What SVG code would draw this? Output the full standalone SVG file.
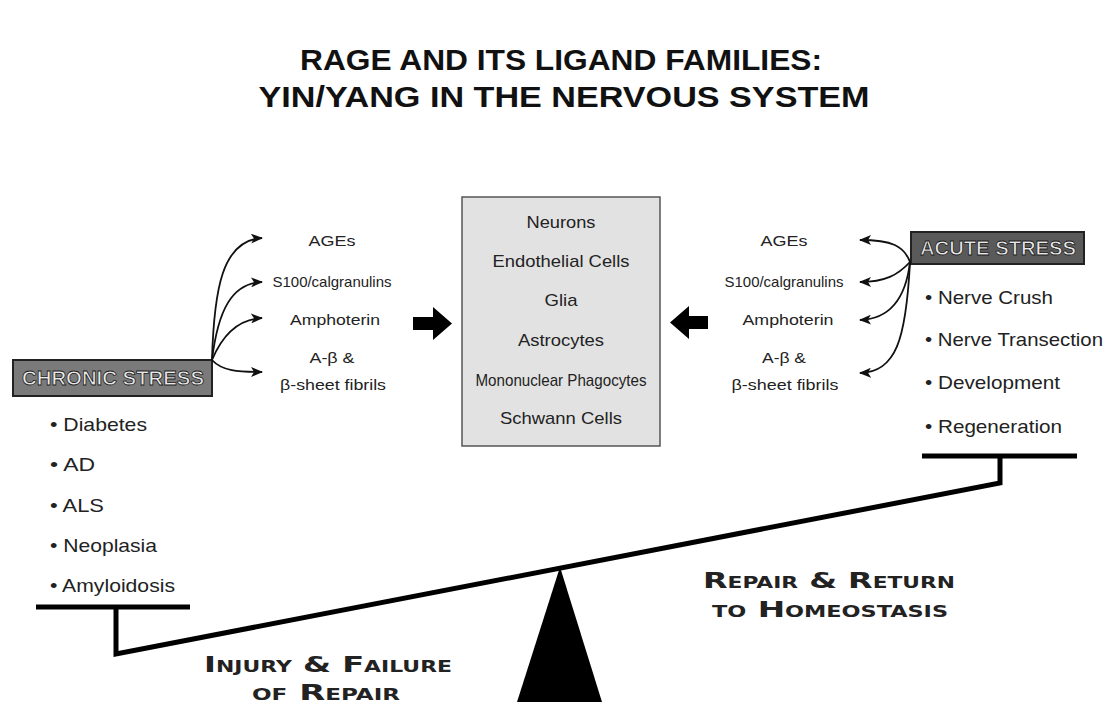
<svg xmlns="http://www.w3.org/2000/svg" width="1106" height="706" viewBox="0 0 1106 706">
<defs>
<marker id="ah" viewBox="0 0 12 10" refX="11" refY="5" markerWidth="12" markerHeight="10" markerUnits="userSpaceOnUse" orient="auto">
<path d="M0,0 L12,5 L0,10 L3,5 Z" fill="#111"/>
</marker>
<style>
.t{font-family:"Liberation Sans",Arial,sans-serif;fill:#222}
.title{font-family:"Liberation Sans",Arial,sans-serif;font-weight:bold;font-size:29px;fill:#111;text-anchor:middle}
.cell{font-size:17px;text-anchor:middle}
.lig{font-size:15px;text-anchor:middle}
.bul{font-size:19px}
.stress{font-family:"Liberation Sans",Arial,sans-serif;font-weight:bold;font-size:20px;fill:#e8e8e8;stroke:#1a1a1a;stroke-width:0.8;text-anchor:middle}
.sc{font-family:"DejaVu Sans",sans-serif;font-weight:bold;font-size:22px;font-variant:small-caps;fill:#222;text-anchor:middle}
.curve{fill:none;stroke:#111;stroke-width:1.8;marker-end:url(#ah)}
.bar{stroke:#000;stroke-width:5;fill:none;stroke-linecap:butt}
</style>
</defs>
<rect width="1106" height="706" fill="#fff"/>

<g id="title">
<text class="title" x="561" y="70" textLength="522" lengthAdjust="spacingAndGlyphs">RAGE AND ITS LIGAND FAMILIES:</text>
<text class="title" x="564" y="107" textLength="611" lengthAdjust="spacingAndGlyphs">YIN/YANG IN THE NERVOUS SYSTEM</text>
</g>

<g id="cells">
<rect x="462" y="197" width="198" height="249" fill="#e2e2e2" stroke="#555" stroke-width="1.5"/>
<text class="t cell" x="561" y="228" textLength="69" lengthAdjust="spacingAndGlyphs">Neurons</text>
<text class="t cell" x="561" y="267" textLength="137" lengthAdjust="spacingAndGlyphs">Endothelial Cells</text>
<text class="t cell" x="561" y="306" textLength="33" lengthAdjust="spacingAndGlyphs">Glia</text>
<text class="t cell" x="561" y="346" textLength="86" lengthAdjust="spacingAndGlyphs">Astrocytes</text>
<text class="t cell" x="561" y="386" textLength="171" lengthAdjust="spacingAndGlyphs">Mononuclear Phagocytes</text>
<text class="t cell" x="561" y="424" textLength="122" lengthAdjust="spacingAndGlyphs">Schwann Cells</text>
</g>

<g id="block-arrows">
<path d="M413,317 L433,317 L433,307 L452,323.5 L433,340 L433,330 L413,330 Z" fill="#000"/>
<path d="M708,316 L689,316 L689,306 L670,322.5 L689,339 L689,329 L708,329 Z" fill="#000"/>
</g>

<g id="chronic-stress">
<rect x="13" y="360" width="199" height="36" fill="#7a7a7a" stroke="#222" stroke-width="2"/>
<text class="stress" x="113" y="385" textLength="182" lengthAdjust="spacingAndGlyphs">CHRONIC STRESS</text>
</g>

<g id="acute-stress">
<rect x="911" y="232" width="173" height="32" fill="#5a5a5a" stroke="#222" stroke-width="2"/>
<text class="stress" x="998" y="255" textLength="156" lengthAdjust="spacingAndGlyphs">ACUTE STRESS</text>
</g>

<g id="left-ligands">
<text class="t lig" x="332" y="246" textLength="47" lengthAdjust="spacingAndGlyphs">AGEs</text>
<text class="t lig" x="332" y="287" textLength="119" lengthAdjust="spacingAndGlyphs">S100/calgranulins</text>
<text class="t lig" x="335" y="325" textLength="90" lengthAdjust="spacingAndGlyphs">Amphoterin</text>
<text class="t lig" x="332" y="363" textLength="45" lengthAdjust="spacingAndGlyphs">A-β &amp;</text>
<text class="t lig" x="333" y="390" textLength="106" lengthAdjust="spacingAndGlyphs">β-sheet fibrils</text>
</g>

<g id="right-ligands">
<text class="t lig" x="784" y="246" textLength="47" lengthAdjust="spacingAndGlyphs">AGEs</text>
<text class="t lig" x="784" y="287" textLength="119" lengthAdjust="spacingAndGlyphs">S100/calgranulins</text>
<text class="t lig" x="788" y="325" textLength="91" lengthAdjust="spacingAndGlyphs">Amphoterin</text>
<text class="t lig" x="784" y="363" textLength="44" lengthAdjust="spacingAndGlyphs">A-β &amp;</text>
<text class="t lig" x="785" y="390" textLength="107" lengthAdjust="spacingAndGlyphs">β-sheet fibrils</text>
</g>

<g id="chronic-list">
<text class="t bul" x="50" y="431" textLength="97" lengthAdjust="spacingAndGlyphs">• Diabetes</text>
<text class="t bul" x="50" y="471" textLength="45" lengthAdjust="spacingAndGlyphs">• AD</text>
<text class="t bul" x="50" y="512" textLength="54" lengthAdjust="spacingAndGlyphs">• ALS</text>
<text class="t bul" x="50" y="552" textLength="107" lengthAdjust="spacingAndGlyphs">• Neoplasia</text>
<text class="t bul" x="50" y="592" textLength="125" lengthAdjust="spacingAndGlyphs">• Amyloidosis</text>
</g>

<g id="acute-list">
<text class="t bul" x="925" y="304" textLength="128" lengthAdjust="spacingAndGlyphs">• Nerve Crush</text>
<text class="t bul" x="925" y="346" textLength="178" lengthAdjust="spacingAndGlyphs">• Nerve Transection</text>
<text class="t bul" x="925" y="389" textLength="135" lengthAdjust="spacingAndGlyphs">• Development</text>
<text class="t bul" x="925" y="433" textLength="137" lengthAdjust="spacingAndGlyphs">• Regeneration</text>
</g>

<g id="connectors">
<path class="curve" d="M212,360 C214,290 222,240 262,238"/>
<path class="curve" d="M212,360 C218,310 232,283 262,282"/>
<path class="curve" d="M212,360 C222,336 238,319 262,318"/>
<path class="curve" d="M212,360 C222,371 238,372 262,372"/>
<path class="curve" d="M910,262 C904,246 892,240 860,240"/>
<path class="curve" d="M910,262 C898,275 885,282 860,282"/>
<path class="curve" d="M910,262 C906,296 892,319 860,320"/>
<path class="curve" d="M910,262 C906,340 896,372 860,373"/>
</g>

<g id="balance">
<line class="bar" x1="36" y1="607" x2="190" y2="607"/>
<polyline class="bar" points="116,607 116,654 1000,483 1000,456"/>
<line class="bar" x1="922" y1="456" x2="1077" y2="456"/>
<path d="M560,567 L602,702 L517,702 Z" fill="#000"/>
</g>

<g id="outcomes">
<text class="sc" x="328" y="672" textLength="248" lengthAdjust="spacingAndGlyphs">Injury &amp; Failure</text>
<text class="sc" x="326" y="700" textLength="148" lengthAdjust="spacingAndGlyphs">of Repair</text>
<text class="sc" x="829" y="588" textLength="252" lengthAdjust="spacingAndGlyphs">Repair &amp; Return</text>
<text class="sc" x="830" y="617" textLength="236" lengthAdjust="spacingAndGlyphs">to Homeostasis</text>
</g>
</svg>
